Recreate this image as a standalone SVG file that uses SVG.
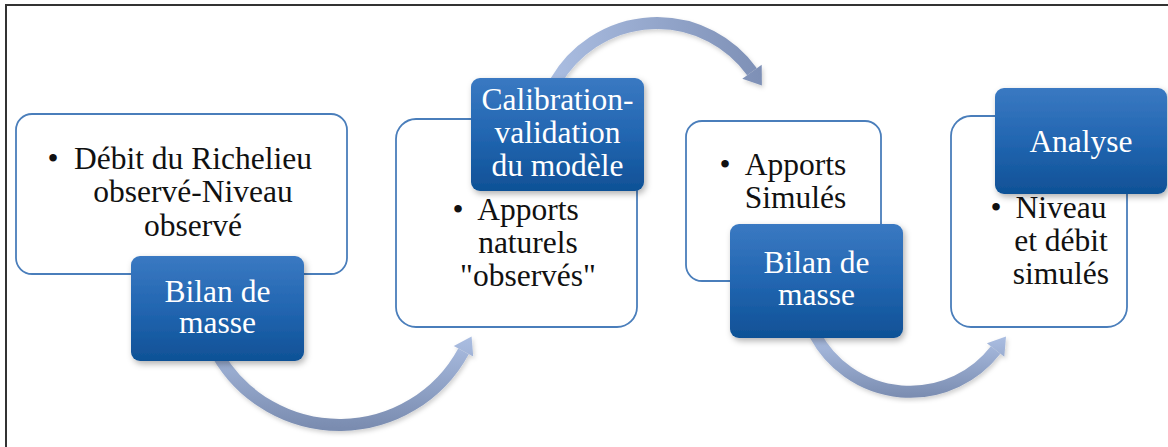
<svg xmlns="http://www.w3.org/2000/svg" width="1168" height="447" viewBox="0 0 1168 447">
  <defs>
    <style>
      .frame { fill: none; stroke: #333333; stroke-width: 2; }
      .wbox { fill: #ffffff; stroke: #4a7ebb; stroke-width: 1.8; }
      .bbox { fill: url(#blueGrad); filter: url(#shadow); }
      .txt { font-size: 31.5px; fill: #111111; text-anchor: middle; }
      .wtxt { font-size: 31.5px; fill: #ffffff; text-anchor: middle; }
      .band { fill: none; stroke-width: 12; }
    </style>
    <linearGradient id="blueGrad" x1="0" y1="0" x2="0" y2="1">
      <stop offset="0" stop-color="#3a79c2"/>
      <stop offset="0.5" stop-color="#2266b1"/>
      <stop offset="1" stop-color="#0f5196"/>
    </linearGradient>
    <linearGradient id="arrGrad1" gradientUnits="userSpaceOnUse" x1="0" y1="336" x2="0" y2="428">
      <stop offset="0" stop-color="#abbee2"/>
      <stop offset="1" stop-color="#7a8cb0"/>
    </linearGradient>
    <linearGradient id="arrGrad2" gradientUnits="userSpaceOnUse" x1="555" y1="0" x2="765" y2="0">
      <stop offset="0" stop-color="#a9bce0"/>
      <stop offset="1" stop-color="#7d8fb5"/>
    </linearGradient>
    <linearGradient id="arrGrad3" gradientUnits="userSpaceOnUse" x1="0" y1="336" x2="0" y2="398">
      <stop offset="0" stop-color="#abbee2"/>
      <stop offset="1" stop-color="#7a8cb0"/>
    </linearGradient>
    <filter id="shadow" x="-10%" y="-10%" width="125%" height="130%">
      <feDropShadow dx="2" dy="3" stdDeviation="3" flood-color="#000000" flood-opacity="0.3"/>
    </filter>
    <filter id="ashadow" x="-10%" y="-10%" width="125%" height="130%">
      <feDropShadow dx="1.5" dy="2.5" stdDeviation="2" flood-color="#000000" flood-opacity="0.18"/>
    </filter>
  </defs>

  <path class="frame" d="M6,447 V5 H1168"/>

  <g id="connectors">
    <g id="arrow1" filter="url(#ashadow)">
      <path class="band" stroke="url(#arrGrad1)" d="M217.5,354.5 A141,141 0 0 0 463.5,351.3"/>
      <polygon fill="url(#arrGrad1)" points="473.2,356.5 453.8,346.1 471.6,336.4"/>
    </g>
    <g id="arrow2" filter="url(#ashadow)">
      <path class="band" stroke="url(#arrGrad2)" d="M555.7,81.5 A117,117 0 0 1 752,71.7"/>
      <polygon fill="url(#arrGrad2)" points="761.7,64.7 742.3,78.7 761.9,85.5"/>
    </g>
    <g id="arrow3" filter="url(#ashadow)">
      <path class="band" stroke="url(#arrGrad3)" d="M814.9,334.5 A108,108 0 0 0 995.6,350"/>
      <polygon fill="url(#arrGrad3)" points="1004.3,356.7 986.9,343.3 1006,336.6"/>
    </g>
  </g>

  <g font-family="'Liberation Serif', 'DejaVu Serif', 'Noto Serif', serif">
  <g id="node-debit">
    <rect class="wbox" x="16" y="114" width="331" height="160" rx="16"/>
    <text class="txt" x="53" y="169">•</text>
    <text class="txt" x="193" y="169">Débit du Richelieu</text>
    <text class="txt" x="193" y="202">observé-Niveau</text>
    <text class="txt" x="193" y="236">observé</text>
  </g>

  <g id="node-apports-naturels">
    <rect class="wbox" x="396" y="119" width="241" height="208" rx="20"/>
    <text class="txt" x="458" y="220">•</text>
    <text class="txt" x="528" y="220">Apports</text>
    <text class="txt" x="528" y="253">naturels</text>
    <text class="txt" x="528" y="286">"observés"</text>
  </g>

  <g id="node-apports-simules">
    <rect class="wbox" x="686" y="121" width="195" height="160" rx="16"/>
    <text class="txt" x="725" y="175">•</text>
    <text class="txt" x="795.5" y="175">Apports</text>
    <text class="txt" x="795.5" y="208">Simulés</text>
  </g>

  <g id="node-niveau">
    <rect class="wbox" x="951" y="116" width="176" height="211" rx="20"/>
    <text class="txt" x="996" y="218">•</text>
    <text class="txt" x="1061" y="218">Niveau</text>
    <text class="txt" x="1061" y="251">et débit</text>
    <text class="txt" x="1061" y="284">simulés</text>
  </g>

  <g id="node-bilan1">
    <rect class="bbox" x="131" y="256" width="173" height="105" rx="9"/>
    <text class="wtxt" x="217.5" y="302">Bilan de</text>
    <text class="wtxt" x="217.5" y="333">masse</text>
  </g>

  <g id="node-calibration">
    <rect class="bbox" x="471" y="78" width="173" height="113" rx="9"/>
    <text class="wtxt" x="557.5" y="110">Calibration-</text>
    <text class="wtxt" x="557.5" y="143">validation</text>
    <text class="wtxt" x="557.5" y="176">du modèle</text>
  </g>

  <g id="node-bilan2">
    <rect class="bbox" x="730" y="224" width="173" height="114" rx="9"/>
    <text class="wtxt" x="816.5" y="273">Bilan de</text>
    <text class="wtxt" x="816.5" y="305">masse</text>
  </g>

  <g id="node-analyse">
    <rect class="bbox" x="995" y="88" width="172" height="106" rx="9"/>
    <text class="wtxt" x="1081" y="152">Analyse</text>
  </g>
  </g>
</svg>
